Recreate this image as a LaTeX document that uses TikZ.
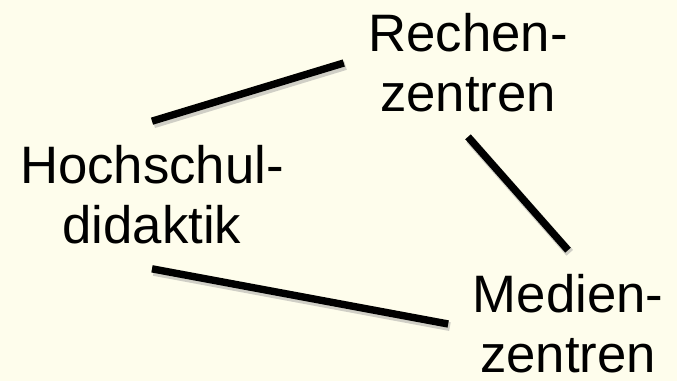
\documentclass[tikz,border=0pt]{standalone}
\usepackage{fontspec}
\setmainfont{Liberation Sans}
\definecolor{paper}{HTML}{FEFDEC}
\begin{document}
\begin{tikzpicture}
  [x=0.02cm,y=-0.02cm,
   every node/.style={align=center,inner sep=0pt,outer sep=14pt,
     font=\fontsize{30}{34}\selectfont},
   link/.style={line width=4.2pt,
     preaction={draw=black!40,opacity=.45,line width=5pt,
       transform canvas={xshift=1pt,yshift=-1.5pt}}}]
  \fill[paper] (0,0) rectangle (677,381);
  \node (hoch) at (152,195) {Hochschul-\\didaktik};
  \node (rech) at (468,63)  {Rechen-\\zentren};
  \node (med)  at (568,324) {Medien-\\zentren};

  \foreach \from/\to in {hoch.north/rech.west,rech.south/med.north,hoch.south/med.west}
    \draw[link] (\from) -- (\to);

\end{tikzpicture}
\end{document}
